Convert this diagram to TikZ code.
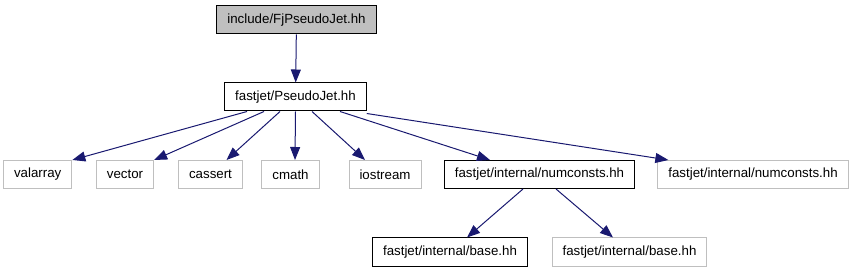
\documentclass[tikz,border=0pt]{standalone}
\usepackage{fontspec}
\setmainfont{Liberation Sans}
\usepackage{xcolor}
\usepackage{tikz}
\usetikzlibrary{arrows.meta}
\definecolor{edgeblue}{HTML}{191970}
\definecolor{sysgray}{HTML}{BFBFBF}
\def\rowA{20}
\def\rowB{97}
\def\rowC{174.5}
\def\rowD{252}

\begin{document}
\begin{tikzpicture}[
    x=1pt, y=-1pt,
    >={Triangle[length=13pt,width=10pt]},
    every node/.style={rectangle, minimum height=28pt, inner xsep=10.5pt,
        line width=1pt, font=\fontsize{13.3}{15}\selectfont},
    file/.style={draw=black},
    sysfile/.style={draw=sysgray},
    root/.style={draw=black, fill=sysgray},
    dep/.style={->, draw=edgeblue, line width=1pt}
]
\useasboundingbox (0,0) rectangle (853,272);
\node[root] (top) at (296.5,\rowA) {include/FjPseudoJet.hh};
\node[file] (pj) at (295.5,\rowB) {fastjet/PseudoJet.hh};
\node[sysfile] (val) at (37.7,\rowC) {valarray};
\node[sysfile] (vec) at (125,\rowC) {vector};
\node[sysfile] (cas) at (210.5,\rowC) {cassert};
\node[sysfile] (cm) at (290.5,\rowC) {cmath};
\node[sysfile] (ios) at (385,\rowC) {iostream};
\node[file] (num) at (539.5,\rowC) {fastjet/internal/numconsts.hh};
\node[sysfile] (numB) at (753,\rowC) {fastjet/internal/numconsts.hh};
\node[file] (base) at (450,\rowD) {fastjet/internal/base.hh};
\node[sysfile] (baseB) at (629.5,\rowD) {fastjet/internal/base.hh};
% includes
\draw[dep] (top) -- (pj);
\draw[dep] ([xshift=-48.5pt]pj.south) -- (val.north east);
\draw[dep] ([xshift=-31.5pt]pj.south) -- (vec.north east);
\draw[dep] ([xshift=-15.5pt]pj.south) -- ([xshift=16pt]cas.north);
\draw[dep] (pj.south) -- ([xshift=4.5pt]cm.north);
\draw[dep] ([xshift=16.5pt]pj.south) -- ([xshift=-20pt]ios.north);
\draw[dep] ([xshift=44.5pt]pj.south) -- ([xshift=-49.5pt]num.north);
\draw[dep] ([yshift=-2pt]pj.south east) -- ([xshift=11pt]numB.north west);
\draw[dep] ([xshift=-16.5pt]num.south) -- ([xshift=17pt]base.north);
\draw[dep] ([xshift=16.5pt]num.south) -- ([xshift=-16.5pt]baseB.north);
\end{tikzpicture}
\end{document}
